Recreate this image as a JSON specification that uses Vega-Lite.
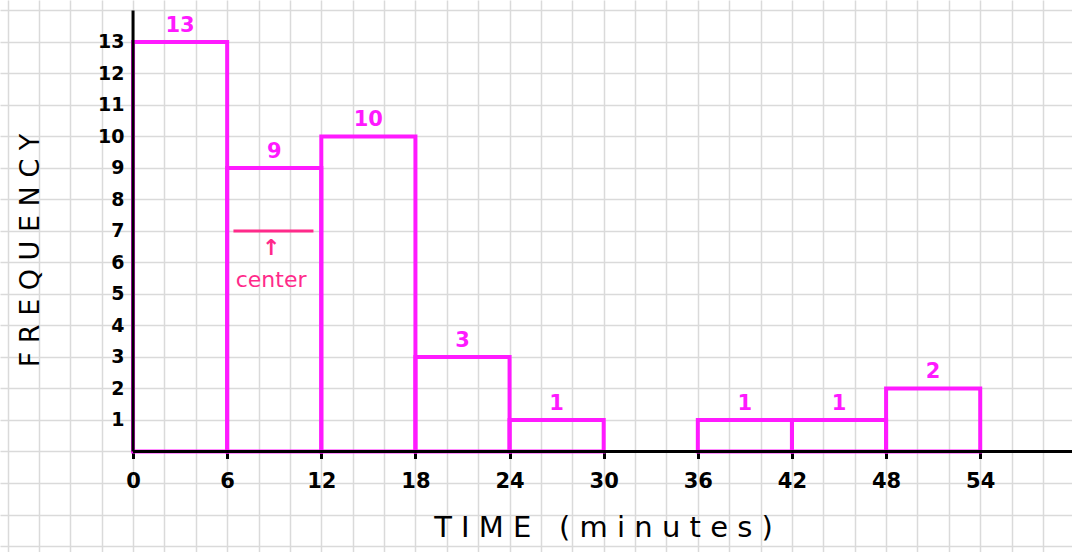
{
  "$schema": "https://vega.github.io/schema/vega-lite/v6.json",
  "width": 1072,
  "height": 552,
  "autosize": {"type": "none"},
  "padding": 0,
  "background": "white",
  "config": {"view": {"stroke": null}, "font": "DejaVu Sans"},
  "data": {"values": [{}]},
  "datasets": {
    "bins": [
      {"start": 0, "end": 6, "count": 13},
      {"start": 6, "end": 12, "count": 9},
      {"start": 12, "end": 18, "count": 10},
      {"start": 18, "end": 24, "count": 3},
      {"start": 24, "end": 30, "count": 1},
      {"start": 30, "end": 36, "count": 0},
      {"start": 36, "end": 42, "count": 1},
      {"start": 42, "end": 48, "count": 1},
      {"start": 48, "end": 54, "count": 2}
    ]
  },
  "layer": [
    {
      "data": {"name": "bins"},
      "transform": [{"filter": "datum.count > 0"}],
      "mark": {"type": "rect", "fill": "transparent", "stroke": "#ff1aff", "strokeWidth": 4},
      "encoding": {
        "x": {
          "field": "start", "type": "quantitative",
          "scale": {"domain": [-8.48, 59.85], "nice": false, "zero": false},
          "axis": {
            "orient": "bottom", "offset": -100.5,
            "values": [-8, -6, -4, -2, 0, 2, 4, 6, 8, 10, 12, 14, 16, 18, 20, 22, 24, 26, 28, 30, 32, 34, 36, 38, 40, 42, 44, 46, 48, 50, 52, 54, 56, 58],
            "tickCount": 200,
            "format": "d",
            "labelOverlap": false,
            "grid": true, "gridColor": "#dadada", "gridWidth": 1.5,
            "domain": false,
            "ticks": true, "tickSize": 7, "tickWidth": 3,
            "tickColor": {"condition": {"test": "datum.value % 6 === 0 && datum.value >= 0 && datum.value <= 54", "value": "black"}, "value": "transparent"},
            "labelExpr": "datum.value % 6 === 0 && datum.value >= 0 && datum.value <= 54 ? datum.label : ''",
            "labelFontSize": 21, "labelFontWeight": "bold", "labelColor": "black", "labelPadding": 12, "labelFont": "DejaVu Sans",
            "title": "T I M E \u00a0\u00a0( m i n u t e s )", "titleFontSize": 29, "titleFontWeight": "normal", "titleColor": "black",
            "titleX": 603, "titleY": 76, "titleBaseline": "middle", "titleAnchor": "middle"
          }
        },
        "x2": {"field": "end"},
        "y": {
          "field": "count", "type": "quantitative",
          "scale": {"domain": [-3.19, 14.33], "nice": false, "zero": false},
          "axis": {
            "orient": "left", "offset": -133,
            "values": [-3, -2, -1, 0, 1, 2, 3, 4, 5, 6, 7, 8, 9, 10, 11, 12, 13, 14],
            "tickCount": 200,
            "format": "d",
            "labelOverlap": false,
            "grid": true, "gridColor": "#dadada", "gridWidth": 1.5,
            "domain": false, "ticks": false,
            "labelExpr": "datum.value >= 1 && datum.value <= 13 ? datum.label : ''",
            "labelFontSize": 19, "labelFontWeight": "bold", "labelColor": "black", "labelPadding": 9,
            "title": "F R E Q U E N C Y", "titleFontSize": 27, "titleFontWeight": "normal", "titleColor": "black",
            "titleX": -103, "titleY": 250, "titleBaseline": "middle", "titleAnchor": "middle", "titleAngle": -90
          }
        },
        "y2": {"datum": 0}
      }
    },
    {
      "data": {"name": "bins"},
      "transform": [{"filter": "datum.count > 0"}, {"calculate": "(datum.start + datum.end) / 2", "as": "mid"}],
      "mark": {"type": "text", "color": "#ff1aff", "fontSize": 21, "fontWeight": "bold", "dy": -16, "baseline": "middle"},
      "encoding": {
        "x": {"field": "mid", "type": "quantitative"},
        "y": {"field": "count", "type": "quantitative"},
        "text": {"field": "count", "type": "quantitative"}
      }
    },
    {
      "mark": {"type": "rule", "color": "black", "strokeWidth": 3},
      "encoding": {
        "x": {"datum": 0, "type": "quantitative"},
        "y": {"datum": 0, "type": "quantitative"},
        "y2": {"datum": 14.0}
      }
    },
    {
      "mark": {"type": "rule", "color": "black", "strokeWidth": 3},
      "encoding": {
        "x": {"datum": 0, "type": "quantitative"},
        "x2": {"datum": 59.85},
        "y": {"datum": 0, "type": "quantitative"}
      }
    },
    {
      "mark": {"type": "rule", "color": "#ff2a8a", "strokeWidth": 3},
      "encoding": {
        "x": {"datum": 6.4, "type": "quantitative"},
        "x2": {"datum": 11.5},
        "y": {"datum": 7, "type": "quantitative"}
      }
    },
    {
      "mark": {"type": "text", "color": "#ff2a8a", "fontSize": 22, "fontWeight": "bold", "baseline": "middle"},
      "encoding": {
        "x": {"datum": 8.8, "type": "quantitative"},
        "y": {"datum": 6.45, "type": "quantitative"},
        "text": {"value": "↑"}
      }
    },
    {
      "mark": {"type": "text", "color": "#ff2a8a", "fontSize": 22, "baseline": "middle"},
      "encoding": {
        "x": {"datum": 8.8, "type": "quantitative"},
        "y": {"datum": 5.45, "type": "quantitative"},
        "text": {"value": "center"}
      }
    }
  ]
}
